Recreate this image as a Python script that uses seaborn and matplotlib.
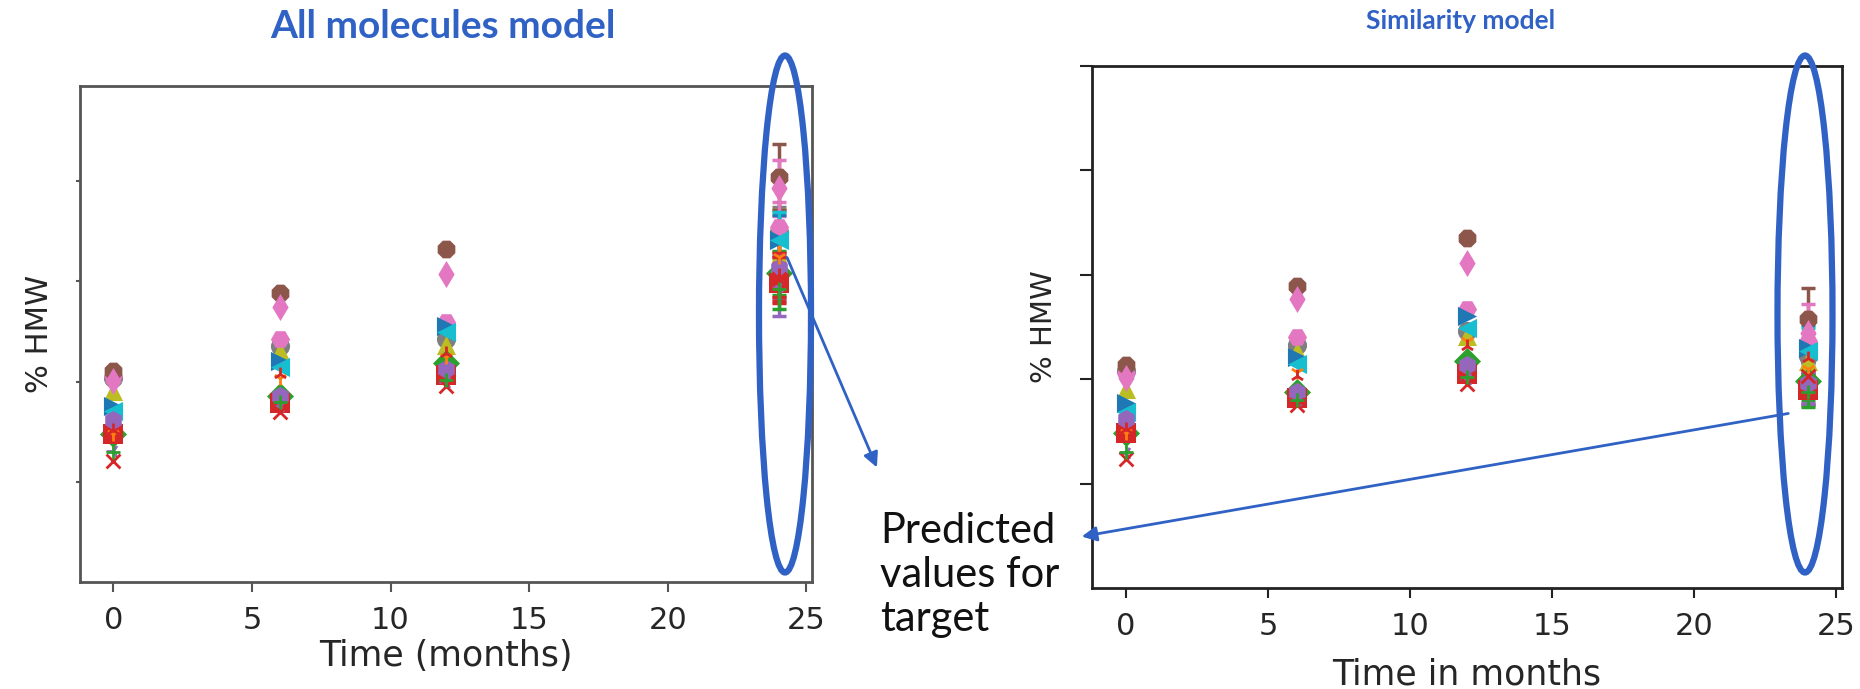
import matplotlib
matplotlib.use("Agg")
import matplotlib.pyplot as plt
import seaborn as sns
import numpy as np
import pandas as pd
from matplotlib.patches import Ellipse, FancyArrowPatch

# ---------------- data ----------------
times = [0, 6, 12, 24]

series_names = ["grey", "olive", "pink_h", "brown", "pink_d", "blue", "cyan",
                "green", "red_s", "purple_h", "orange", "red_tri", "purple_x",
                "red_x", "green_x"]
series_colors = ["#7f7f7f", "#bcbd22", "#e377c2", "#8c564b", "#e377c2", "#1f77b4",
                 "#17becf", "#2ca02c", "#d62728", "#9467bd", "#ff7f0e", "#d62728",
                 "#9467bd", "#d62728", "#2ca02c"]
series_markers = ["o", "^", "H", "8", "d", ">", "<", "D", "s", "h", "1", "2",
                  "3", "x", "+"]

# All molecules model (left)
left_values = [
    [2.04, 2.36, 2.43, 3.49],
    [1.91, 2.31, 2.37, 3.46],
    [2.06, 2.43, 2.59, 3.54],
    [2.11, 2.88, 3.32, 4.04],
    [2.01, 2.74, 3.07, 3.93],
    [1.76, 2.21, 2.55, 3.41],
    [1.71, 2.15, 2.49, 3.41],
    [1.48, 1.86, 2.19, 3.08],
    [1.48, 1.79, 2.07, 2.98],
    [1.62, 1.86, 2.13, 3.13],
    [1.48, 2.04, 2.25, 3.24],
    [1.52, 2.08, 2.29, 3.06],
    [1.31, 1.76, 2.00, 2.95],
    [1.21, 1.70, 1.96, 3.02],
    [1.30, 1.80, 2.02, 2.92],
]
left_err24 = [0.25, 0.25, 0.25, 0.33, 0.28, 0.25, 0.28, 0.22, 0.20, 0.30,
              0.22, 0.22, 0.30, 0.22, 0.20]

# Similarity model (right)
right_values = [
    [2.08, 2.33, 2.46, 2.22],
    [1.91, 2.27, 2.41, 2.17],
    [2.06, 2.40, 2.67, 2.37],
    [2.14, 2.89, 3.35, 2.58],
    [2.01, 2.77, 3.11, 2.44],
    [1.77, 2.21, 2.61, 2.30],
    [1.69, 2.15, 2.49, 2.27],
    [1.48, 1.88, 2.17, 1.98],
    [1.48, 1.82, 2.05, 1.90],
    [1.62, 1.88, 2.14, 1.96],
    [1.48, 2.07, 2.37, 2.10],
    [1.52, 2.03, 2.32, 2.20],
    [1.29, 1.80, 2.00, 1.92],
    [1.24, 1.75, 1.95, 2.03],
    [1.30, 1.80, 2.02, 1.88],
]
right_err24 = [0.22, 0.22, 0.22, 0.29, 0.28, 0.22, 0.22, 0.18, 0.15, 0.20,
               0.18, 0.18, 0.15, 0.15, 0.15]

x_ticks = [0, 5, 10, 15, 20, 25]
left_title = "All molecules model"
right_title = "Similarity model"
left_xlabel = "Time (months)"
right_xlabel = "Time in months"
ylabel = "% HMW"
note_text = "Predicted\nvalues for\ntarget"

ANN_BLUE = "#2f62c4"

# ---------------- figure ----------------
sns.set_theme(style="white")
plt.rcParams["font.family"] = ["DejaVu Sans"]

W, H = 1860, 689
fig = plt.figure(figsize=(W / 100, H / 100), dpi=100)

axL = fig.add_axes([80 / W, 1 - 582 / H, 732 / W, 496 / H])
axR = fig.add_axes([1092 / W, 1 - 588 / H, 750 / W, 522 / H])

LINE_MARKERS = {"1", "2", "3", "4", "x", "+"}


def draw_panel(ax, values, errs, ylim, yticks, spine_color, tick_len):
    for name, col, mk, vals, e in zip(series_names, series_colors, series_markers,
                                      values, errs):
        ax.errorbar([24], [vals[3]], yerr=[e], fmt="none", ecolor=col,
                    elinewidth=2.5, capsize=5, capthick=2.5, zorder=2)
        df = pd.DataFrame({"time": times, "hmw": vals})
        if mk in LINE_MARKERS:
            sns.scatterplot(data=df, x="time", y="hmw", ax=ax, marker=mk,
                            color=col, edgecolor=col, linewidth=2, s=100,
                            legend=False, zorder=3)
        else:
            sns.scatterplot(data=df, x="time", y="hmw", ax=ax, marker=mk,
                            color=col, linewidth=0, s=190, legend=False,
                            zorder=3)
    ax.set_xlim(-1.2, 25.2)
    ax.set_ylim(*ylim)
    ax.set_xticks(x_ticks)
    ax.set_xticklabels([str(t) for t in x_ticks], fontsize=22)
    ax.set_yticks(yticks)
    ax.set_yticklabels([])
    ax.tick_params(axis="x", direction="out", length=7, width=1.5,
                   color=spine_color, pad=10)
    ax.tick_params(axis="y", direction="out", length=tick_len, width=1.5,
                   color=spine_color)
    ax.tick_params(bottom=True, left=True)
    for sp in ax.spines.values():
        sp.set_color(spine_color)
        sp.set_linewidth(2)


draw_panel(axL, left_values, left_err24, (0, 4.95), [1, 2, 3, 4], "#555555", 3)
draw_panel(axR, right_values, right_err24, (0, 5.0), [1, 2, 3, 4, 5], "#222222", 9)

axL.set_ylabel(ylabel, fontsize=22, labelpad=12)
axR.set_ylabel(ylabel, fontsize=21, labelpad=12)
axL.set_xlabel(left_xlabel, fontsize=25, labelpad=3)
axR.set_xlabel(right_xlabel, fontsize=25, labelpad=12)

# titles
fig.text(443 / W, 1 - 26 / H, left_title, ha="center", va="center",
         fontsize=28, fontweight="bold", color=ANN_BLUE, family=["Lato", "DejaVu Sans"])
fig.text(1461 / W, 1 - 21 / H, right_title, ha="center", va="center",
         fontsize=19, fontweight="bold", color=ANN_BLUE, family=["Lato", "DejaVu Sans"])

# note text
fig.text(880 / W, 1 - 575 / H, note_text, ha="left", va="center",
         fontsize=30, color="#111111", linespacing=1.2,
         family=["Lato", "DejaVu Sans"])

# ellipses
for cx, cy, w, h in [(785, 314, 52, 517), (1805, 314, 55, 517)]:
    el = Ellipse((cx / W, 1 - cy / H), w / W, h / H, transform=fig.transFigure,
                 fill=False, edgecolor=ANN_BLUE, linewidth=4.5, zorder=10)
    fig.add_artist(el)

# arrows
for (x0, y0), (x1, y1) in [((786, 255), (878, 470)), ((1791, 413), (1079, 537))]:
    ar = FancyArrowPatch((x0 / W, 1 - y0 / H), (x1 / W, 1 - y1 / H),
                         transform=fig.transFigure, arrowstyle="-|>",
                         mutation_scale=22, color=ANN_BLUE, linewidth=2,
                         zorder=11)
    fig.add_artist(ar)

fig.savefig("out.png", dpi=100)
